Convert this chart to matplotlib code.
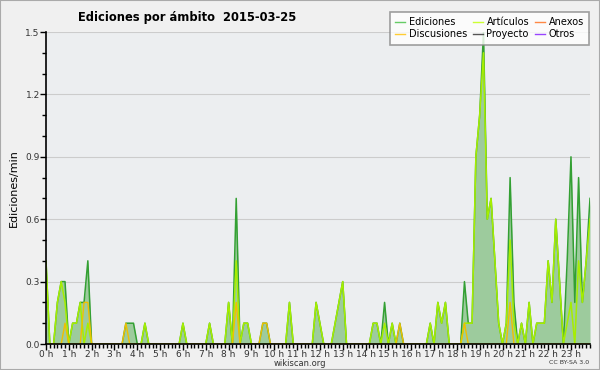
import matplotlib
matplotlib.use("Agg")
import matplotlib.pyplot as plt
from matplotlib.lines import Line2D
from matplotlib.ticker import MultipleLocator, FixedLocator
import numpy as np

# edits per minute, one value per 10 minute slot (6 per hour, 24 rows)
ediciones = [
    0.4, 0, 0, 0.2, 0.3, 0.3,
    0, 0.1, 0.1, 0.2, 0.2, 0.4,
    0, 0, 0, 0, 0, 0,
    0, 0, 0, 0.1, 0.1, 0.1,
    0, 0, 0.1, 0, 0, 0,
    0, 0, 0, 0, 0, 0,
    0.1, 0, 0, 0, 0, 0,
    0, 0.1, 0, 0, 0, 0,
    0.2, 0, 0.7, 0, 0.1, 0.1,
    0, 0, 0, 0.1, 0.1, 0,
    0, 0, 0, 0, 0.2, 0,
    0, 0, 0, 0, 0, 0.2,
    0.1, 0, 0, 0, 0.1, 0.2,
    0.3, 0, 0, 0, 0, 0,
    0, 0, 0.1, 0.1, 0, 0.2,
    0, 0.1, 0, 0.1, 0, 0,
    0, 0, 0, 0, 0, 0.1,
    0, 0.2, 0.1, 0.2, 0, 0,
    0, 0, 0.3, 0.1, 0.1, 0.9,
    1.1, 1.5, 0.6, 0.7, 0.4, 0.1,
    0, 0.1, 0.8, 0.2, 0, 0.1,
    0, 0.2, 0, 0.1, 0.1, 0.1,
    0.4, 0.2, 0.6, 0.3, 0, 0.4,
    0.9, 0.2, 0.8, 0.2, 0.4, 0.7,
]
articulos = [
    0.4, 0, 0, 0.2, 0.3, 0.2,
    0, 0.1, 0.1, 0.2, 0, 0.1,
    0, 0, 0, 0, 0, 0,
    0, 0, 0, 0, 0, 0,
    0, 0, 0.1, 0, 0, 0,
    0, 0, 0, 0, 0, 0,
    0.1, 0, 0, 0, 0, 0,
    0, 0.1, 0, 0, 0, 0,
    0.2, 0, 0.4, 0, 0.1, 0.1,
    0, 0, 0, 0, 0, 0,
    0, 0, 0, 0, 0.2, 0,
    0, 0, 0, 0, 0, 0.2,
    0.1, 0, 0, 0, 0.1, 0.2,
    0.3, 0, 0, 0, 0, 0,
    0, 0, 0.1, 0.1, 0, 0.1,
    0, 0.1, 0, 0, 0, 0,
    0, 0, 0, 0, 0, 0.1,
    0, 0.2, 0.1, 0.2, 0, 0,
    0, 0, 0.1, 0.1, 0.1, 0.9,
    1.1, 1.4, 0.6, 0.7, 0.4, 0.1,
    0, 0.1, 0.5, 0.1, 0, 0.1,
    0, 0.2, 0, 0.1, 0.1, 0.1,
    0.4, 0.2, 0.6, 0.3, 0, 0.1,
    0.2, 0, 0.4, 0.2, 0.4, 0.6,
]
discusiones = [
    0, 0, 0, 0, 0, 0.1,
    0, 0, 0, 0, 0.2, 0.2,
    0, 0, 0, 0, 0, 0,
    0, 0, 0, 0.1, 0, 0,
    0, 0, 0, 0, 0, 0,
    0, 0, 0, 0, 0, 0,
    0, 0, 0, 0, 0, 0,
    0, 0, 0, 0, 0, 0,
    0, 0, 0.2, 0, 0, 0,
    0, 0, 0, 0.1, 0.1, 0,
    0, 0, 0, 0, 0, 0,
    0, 0, 0, 0, 0, 0,
    0, 0, 0, 0, 0, 0,
    0, 0, 0, 0, 0, 0,
    0, 0, 0, 0, 0, 0,
    0, 0, 0, 0.1, 0, 0,
    0, 0, 0, 0, 0, 0,
    0, 0, 0, 0, 0, 0,
    0, 0, 0.1, 0, 0, 0,
    0, 0, 0, 0, 0, 0,
    0, 0, 0.2, 0, 0, 0,
    0, 0, 0, 0, 0, 0,
    0, 0, 0, 0, 0, 0,
    0, 0, 0, 0, 0, 0,
]
hour_labels = ["%d h" % h for h in range(24)]
legend_names = ["Ediciones", "Discusiones", "Artículos", "Proyecto", "Anexos", "Otros"]
legend_colors = ["#66cc66", "#ffcc33", "#ccff33", "#555555", "#ff8844", "#9944ff"]

x = np.arange(len(ediciones)) / 6.0

fig = plt.figure(figsize=(6, 3.7), dpi=100, facecolor="#f0f0f0")
ax = fig.add_axes([46/600, 1-344/370, 544/600, 312/370], facecolor="#eceef0")

ax.fill_between(x, ediciones, 0, color="#9dcb9d", lw=0, zorder=2)
ax.plot(x, ediciones, color="#33a033", lw=1.1, zorder=3)
ax.plot(x, articulos, color="#a6ee00", lw=1.1, zorder=4)
ax.plot(x, discusiones, color="#f0c000", lw=1.0, zorder=5)

# axis ends on the last 10 min slot
ax.set_xlim(0, x[-1])
ax.set_ylim(0, 1.5)
ax.xaxis.set_major_locator(FixedLocator(range(24)))
ax.set_xticklabels(hour_labels)
ax.xaxis.set_minor_locator(MultipleLocator(1/6))
ax.yaxis.set_major_locator(MultipleLocator(0.3))
ax.yaxis.set_minor_locator(MultipleLocator(0.1))
ax.yaxis.set_major_formatter(plt.FormatStrFormatter("%.1f"))
ax.tick_params(axis="both", which="major", direction="out", length=4, width=1,
               labelsize=6.5, pad=0.5, colors="black", labelcolor="#333333")
ax.tick_params(axis="both", which="minor", direction="out", length=3, width=1)
ax.grid(axis="y", which="major", color="#cccccc", lw=0.8, zorder=0)
for s in ["top", "right"]:
    ax.spines[s].set_visible(False)
for s in ["left", "bottom"]:
    ax.spines[s].set_linewidth(1.2)
    ax.spines[s].set_zorder(6)

ax.set_ylabel("Ediciones/min", fontsize=8, labelpad=5)
fig.text(187/600, 1-17/370, "Ediciones por ámbito  2015-03-25", fontsize=8.3,
         fontweight="bold", ha="center", va="center")
fig.text(0.5, 1-363/370, "wikiscan.org", fontsize=6, ha="center", va="center", color="#333333")
fig.text(589/600, 1-363/370, "CC BY-SA 3.0", fontsize=4.5, ha="right", va="center", color="#333333")

handles = [Line2D([], [], color=c, lw=1) for c in legend_colors]
leg = fig.legend(handles, legend_names, ncol=3, loc="upper right",
                 bbox_to_anchor=(594/600, 1-7/370), fontsize=7, frameon=True,
                 fancybox=False, shadow=False, handlelength=1.0, handletextpad=0.4,
                 columnspacing=0.6, labelspacing=0.2, borderpad=0.55)
leg.get_frame().set_edgecolor("#888888")
leg.get_frame().set_linewidth(1.2)

# outer border
fig.patches.append(plt.Rectangle((0, 0), 1, 1, transform=fig.transFigure,
                                 fill=False, edgecolor="#aaaaaa", lw=1.5))

fig.savefig("out.png", dpi=100, facecolor=fig.get_facecolor())
